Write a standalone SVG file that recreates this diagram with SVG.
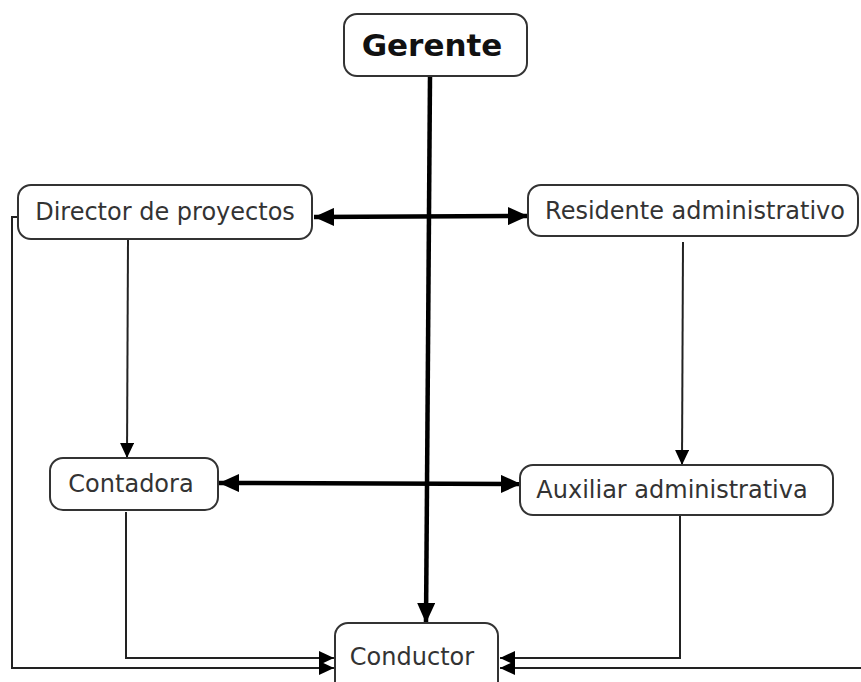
<svg xmlns="http://www.w3.org/2000/svg" width="861" height="682" viewBox="0 0 861 682">
<style>
.box{fill:#fff;stroke:#333;stroke-width:2}
.t{font-family:"DejaVu Sans",Verdana,sans-serif;font-size:24px;fill:#333;text-anchor:middle}
.tb{font-family:"DejaVu Sans",Verdana,sans-serif;font-size:31px;font-weight:bold;fill:#111;text-anchor:middle}
.thick{stroke:#000;stroke-width:4.5;fill:none}
.thin{stroke:#222;stroke-width:2;fill:none}
</style>
<defs>
<marker id="ah" markerUnits="userSpaceOnUse" markerWidth="20" markerHeight="18" refX="20" refY="9" orient="auto-start-reverse" viewBox="0 0 20 18">
<path d="M0,0 L20,9 L0,18 z" fill="#000"/>
</marker>
<marker id="as" markerUnits="userSpaceOnUse" markerWidth="15" markerHeight="14" refX="15" refY="7" orient="auto" viewBox="0 0 15 14">
<path d="M0,0 L15,7 L0,14 z" fill="#000"/>
</marker>
</defs>
<rect width="861" height="682" fill="#fff"/>
<g id="connectors">
<line class="thick" x1="430" y1="76" x2="426" y2="623" marker-end="url(#ah)"/>
<line class="thick" x1="314" y1="217" x2="528" y2="216" marker-start="url(#ah)" marker-end="url(#ah)"/>
<line class="thick" x1="219" y1="483" x2="521" y2="484" marker-start="url(#ah)" marker-end="url(#ah)"/>
<line class="thin" x1="128" y1="240" x2="127" y2="458" marker-end="url(#as)"/>
<line class="thin" x1="683" y1="242" x2="682" y2="465" marker-end="url(#as)"/>
<polyline class="thin" points="126,512 126,658 334,658" marker-end="url(#as)"/>
<polyline class="thin" points="18,217 12,217 12,668 334,668" marker-end="url(#as)"/>
<polyline class="thin" points="680,516 680,658 500,658" marker-end="url(#as)"/>
<polyline class="thin" points="862,668 500,668" marker-end="url(#as)"/>
</g>
<g id="gerente">
<rect class="box" x="344" y="14" width="183" height="62" rx="13"/>
<text class="tb" x="432" y="56">Gerente</text>
</g>
<g id="director">
<rect class="box" x="18" y="185" width="294" height="54" rx="13"/>
<text class="t" x="165" y="220">Director de proyectos</text>
</g>
<g id="residente">
<rect class="box" x="528" y="185" width="330" height="51" rx="13"/>
<text class="t" x="695" y="219">Residente administrativo</text>
</g>
<g id="contadora">
<rect class="box" x="50" y="458" width="168" height="52" rx="13"/>
<text class="t" x="131" y="492">Contadora</text>
</g>
<g id="auxiliar">
<rect class="box" x="520" y="465" width="313" height="50" rx="13"/>
<text class="t" x="672" y="498">Auxiliar administrativa</text>
</g>
<g id="conductor">
<rect class="box" x="335" y="623" width="163" height="72" rx="13"/>
<text class="t" x="412" y="665">Conductor</text>
</g>
</svg>
